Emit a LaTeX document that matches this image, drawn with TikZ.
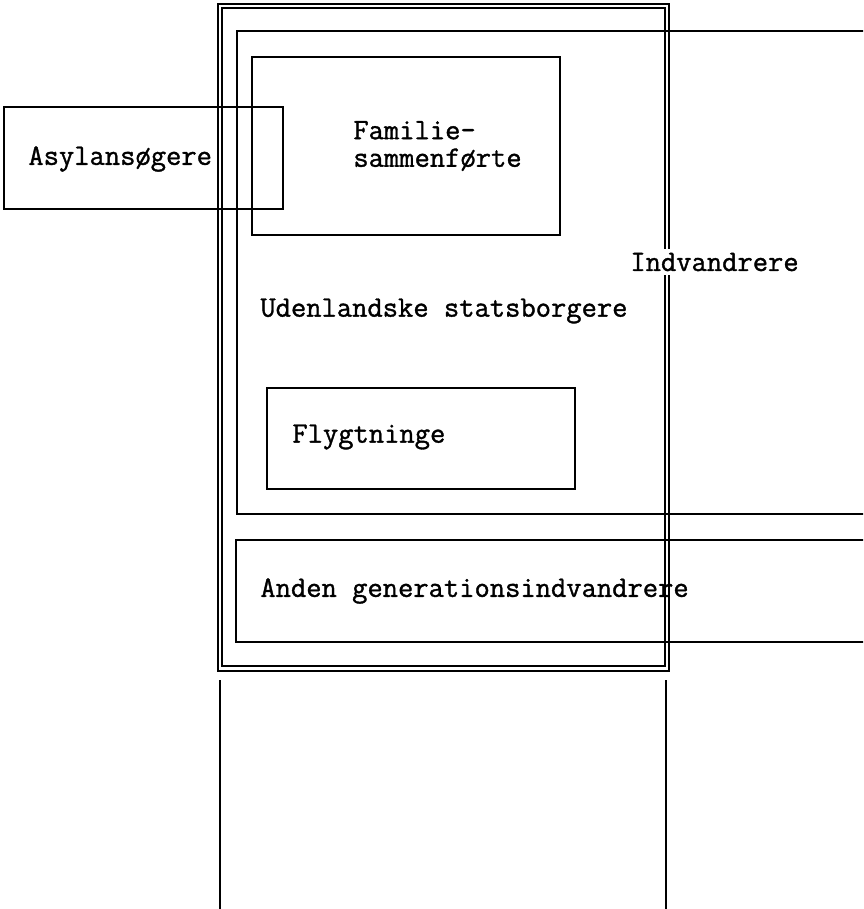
\documentclass[tikz,border=0pt]{standalone}
\usepackage{fontspec}
\newfontfamily\scanfont{Latin Modern Mono}[FakeBold=1.2]

\tikzset{
  boxline/.style={line width=1pt},
  txt/.style={font=\scanfont\fontsize{14.85}{13.8}\selectfont, inner sep=0pt, anchor=west, align=left}
}

\begin{document}
\begin{tikzpicture}[x=0.5pt,y=-0.5pt]
        \useasboundingbox (0,0) rectangle (863,909);
        \clip (0,0) rectangle (863,909);
        \draw [boxline] (218,4) rectangle (669,671); % Outer frame, outer line.
        \draw [boxline] (222,8) rectangle (665,666); % Outer frame, inner line.
        \draw [boxline] (220,680) -- (220,909);
        \draw [boxline] (666,680) -- (666,909);
        \draw [boxline] (237,31) rectangle (890,514); % Udenlandske statsborgere.
        \draw [boxline] (236,540) rectangle (890,642); % Second generation.
        \draw [boxline] (252,57) rectangle (560,235); % Familie.
        \draw [boxline] (267,388) rectangle (575,489); % Flygtninge.
        \draw [boxline] (4,107) rectangle (283,209); % Asylansoegere.

        \draw (626,262) node[txt, fill=white, inner sep=2pt] (indv) {Indvandrere};
        \draw (260,311) node[txt] (udl) {Udenlandske statsborgere};
        \draw (353,146) node[txt] (fam) {Familie-\\sammenførte};
        \draw (292,437) node[txt] (flygt) {Flygtninge};
        \draw (28,159) node[txt] (asyl) {Asylansøgere};
        \draw (260,591) node[txt] (anden) {Anden generationsindvandrere};
\end{tikzpicture}
\end{document}
